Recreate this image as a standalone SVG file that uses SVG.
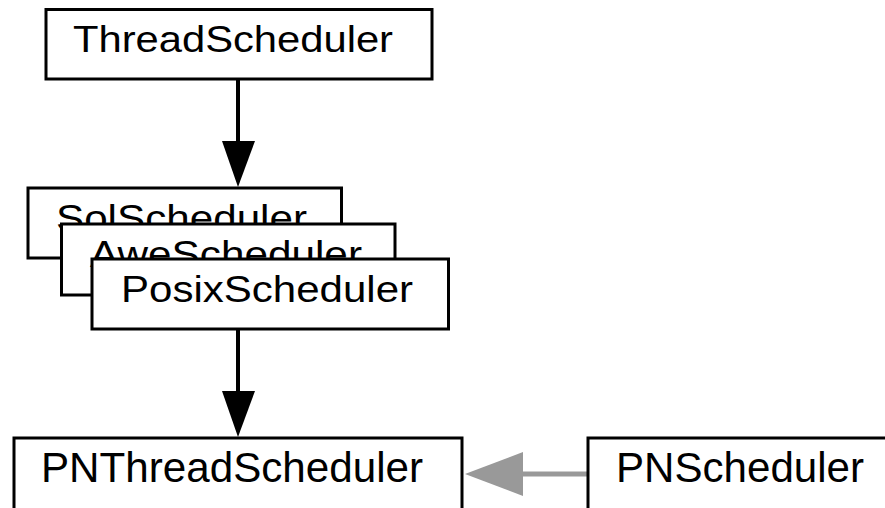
<svg xmlns="http://www.w3.org/2000/svg" width="885" height="508" viewBox="0 0 885 508">
  <style>
    .box { fill: #ffffff; stroke: #000000; stroke-width: 3; }
    .lbl { font-family: "Liberation Sans", Arial, sans-serif; font-size: 36px; fill: #000000; }
    .lblb { font-family: "Liberation Sans", Arial, sans-serif; font-size: 42px; fill: #000000; }
    .edge { stroke: #000000; stroke-width: 4; fill: none; }
    .edge-gray { stroke: #999999; stroke-width: 5; fill: none; }
  </style>
  <rect width="885" height="508" fill="#ffffff"/>

  <g id="connectors">
    <line class="edge" x1="238" y1="80" x2="238" y2="142"/>
    <polygon points="222,141 255,141 238,187" fill="#000000"/>
    <line class="edge" x1="238" y1="330" x2="238" y2="392"/>
    <polygon points="222,391 255,391 238,437" fill="#000000"/>
    <line class="edge-gray" x1="588" y1="474" x2="520" y2="474"/>
    <polygon points="523,452 523,496 465,474" fill="#999999"/>
  </g>

  <g id="ThreadScheduler">
    <rect class="box" x="46" y="9.5" width="386" height="69.5"/>
    <text class="lbl" x="73" y="52" textLength="320" lengthAdjust="spacingAndGlyphs">ThreadScheduler</text>
  </g>

  <g id="SolScheduler">
    <rect class="box" x="28" y="188" width="313.5" height="70"/>
    <text class="lbl" x="56" y="231" textLength="251" lengthAdjust="spacingAndGlyphs">SolScheduler</text>
  </g>

  <g id="AweScheduler">
    <rect class="box" x="61.5" y="224" width="333.5" height="71"/>
    <text class="lbl" x="90" y="267" textLength="272" lengthAdjust="spacingAndGlyphs">AweScheduler</text>
  </g>

  <g id="PosixScheduler">
    <rect class="box" x="92" y="259" width="356.5" height="70"/>
    <text class="lbl" x="121" y="302" textLength="292" lengthAdjust="spacingAndGlyphs">PosixScheduler</text>
  </g>

  <g id="PNThreadScheduler">
    <rect class="box" x="14" y="438" width="448" height="90"/>
    <text class="lblb" x="41" y="482" textLength="382" lengthAdjust="spacingAndGlyphs">PNThreadScheduler</text>
  </g>

  <g id="PNScheduler">
    <rect class="box" x="588" y="438" width="320" height="90"/>
    <text class="lblb" x="616" y="482" textLength="248" lengthAdjust="spacingAndGlyphs">PNScheduler</text>
  </g>
</svg>
